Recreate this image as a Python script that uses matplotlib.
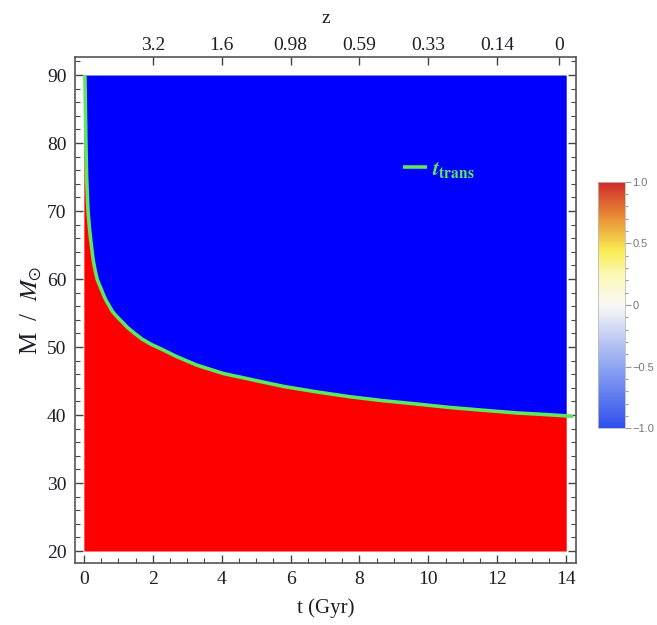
import numpy as np
import matplotlib
matplotlib.use("Agg")
import matplotlib.pyplot as plt
from matplotlib.colors import LinearSegmentedColormap, Normalize
from matplotlib.ticker import MultipleLocator
import matplotlib.cm as cm

plt.rcParams["font.family"] = ["Liberation Serif", "DejaVu Serif"]
plt.rcParams["mathtext.fontset"] = "stix"

# transition curve t_trans (Gyr) -> M (Msun)
t_trans = [0.03, 0.06, 0.08, 0.12, 0.16, 0.2, 0.27, 0.33, 0.39, 0.48, 0.56, 0.64,
           0.72, 0.82, 0.9, 1.05, 1.15, 1.26, 1.45, 1.68, 1.95, 2.25, 2.69, 3.3,
           4.05, 4.97, 5.8, 6.76, 7.7, 8.7, 9.7, 10.64, 11.6, 12.58, 13.3, 13.93, 14.2]
m_trans = [90.0, 80.0, 75.0, 70.0, 67.6, 65.7, 62.8, 61.2, 59.9, 58.8, 57.8, 56.9,
           56.2, 55.3, 54.8, 54.0, 53.5, 52.9, 52.1, 51.2, 50.4, 49.7, 48.6, 47.3,
           46.1, 45.1, 44.2, 43.4, 42.7, 42.1, 41.6, 41.1, 40.7, 40.3, 40.1, 39.9, 39.8]

t_range = [0.0, 14.0]
m_range = [20.0, 90.0]

# redshift labels on the top axis
z_tick_t = [2, 4, 6, 8, 10, 12, 13.8]
z_labels = ["3.2", "1.6", "0.98", "0.59", "0.33", "0.14", "0"]

cbar_ticks = [1.0, 0.5, 0.0, -0.5, -1.0]
cbar_labels = ["1.0", "0.5", "0", "\u22120.5", "\u22121.0"]

temp_map = LinearSegmentedColormap.from_list("temperature", [
    (0.00, "#2e4fee"), (0.25, "#8ea5f2"), (0.50, "#f8f8f4"),
    (0.62, "#fbf8b8"), (0.72, "#f8ec52"), (0.86, "#e88c34"), (1.00, "#d22a2c")])

green = "#5de85d"

fig = plt.figure(figsize=(6.57, 6.25), dpi=100)
ax = fig.add_axes([0.114, 0.0992, 0.763, 0.8096])

t_arr = np.array(t_trans)
m_arr = np.array(m_trans)
keep = t_arr <= t_range[1]
t_fill = np.concatenate([[t_range[0]], t_arr[keep], [t_range[1]]])
m_fill = np.concatenate([[m_range[1]], m_arr[keep], [np.interp(t_range[1], t_arr, m_arr)]])

ax.fill_between(t_fill, m_range[0], m_fill, color="#ff0000", lw=0)
ax.fill_between(t_fill, m_fill, m_range[1], color="#0000ff", lw=0)
ax.plot(t_trans, m_trans, color=green, lw=2.6, solid_capstyle="butt",
        solid_joinstyle="round", label=r"$\boldsymbol{t}_{\mathbf{trans}}$")

ax.set_xlim(-0.26, 14.29)
ax.set_ylim(18.24, 92.65)
ax.xaxis.set_major_locator(MultipleLocator(2))
ax.xaxis.set_minor_locator(MultipleLocator(0.5))
ax.yaxis.set_major_locator(MultipleLocator(10))
ax.yaxis.set_minor_locator(MultipleLocator(2))
ax.tick_params(which="both", direction="in", right=True, top=False,
               color="#444444", labelsize=14, labelcolor="#1e1e28")
ax.tick_params(which="major", length=6, width=1, pad=6)
ax.tick_params(which="minor", length=3.5, width=0.8)
for sp in ax.spines.values():
    sp.set_edgecolor("#555555")
    sp.set_linewidth(1.2)

ax.set_xlabel("t (Gyr)", fontsize=15, color="#1e1e28", labelpad=7)
ax.set_ylabel(r"M  /  $M_{\odot}$", fontsize=18, color="#1e1e28", labelpad=2)

top = ax.twiny()
top.set_xlim(ax.get_xlim())
top.set_xticks(z_tick_t)
top.set_xticklabels(z_labels)
top.tick_params(direction="in", length=6, width=1, color="#444444", pad=2,
                labelsize=14, labelcolor="#1e1e28")
top.set_xlabel("z", fontsize=14, color="#1e1e28", labelpad=10)
for sp in top.spines.values():
    sp.set_visible(False)

leg = ax.legend(loc="center left", bbox_to_anchor=(0.655, 0.777), frameon=False,
                borderpad=0, borderaxespad=0, handlelength=1.05, handletextpad=0.25,
                fontsize=16, labelcolor=green)

cax = fig.add_axes([0.910, 0.315, 0.041, 0.394])
sm = cm.ScalarMappable(norm=Normalize(-1, 1), cmap=temp_map)
cb = fig.colorbar(sm, cax=cax)
cb.set_ticks(cbar_ticks)
cb.set_ticklabels(cbar_labels)
cb.ax.yaxis.set_minor_locator(MultipleLocator(0.1))
cb.ax.tick_params(which="both", color="#999999", labelcolor="#777777",
                  labelsize=8, width=0.8, pad=1.5)
cb.ax.tick_params(which="major", length=4)
cb.ax.tick_params(which="minor", length=2)
for lbl in cb.ax.get_yticklabels():
    lbl.set_family(["Liberation Sans", "DejaVu Sans"])
cb.outline.set_edgecolor("#bbbbbb")
cb.outline.set_linewidth(0.6)

fig.savefig("out.png", dpi=100)
